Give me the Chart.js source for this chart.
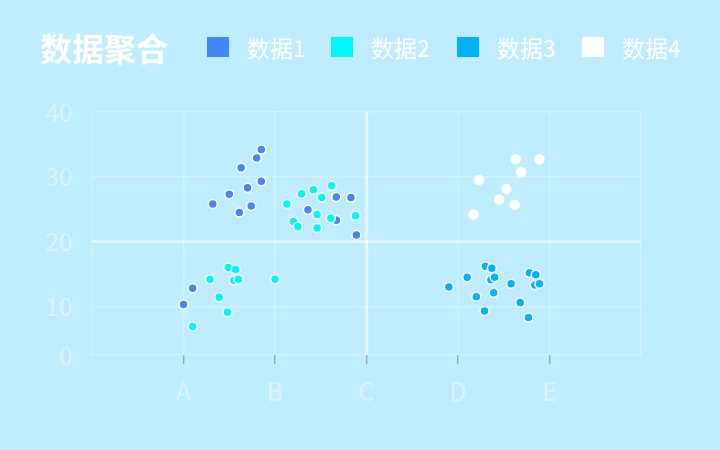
<!DOCTYPE html>
<html>
<head>
<meta charset="utf-8">
<script src="https://cdn.jsdelivr.net/npm/chart.js@4/dist/chart.umd.min.js"></script>
<style>
  html,body{margin:0;padding:0;background:#c0ecff;}
  #wrap{position:relative;width:720px;height:450px;overflow:hidden;font-family:"Noto Sans CJK SC","Noto Sans",sans-serif;}
  #title{position:absolute;left:40px;top:26px;font-size:32px;font-weight:bold;color:#fff;line-height:42px;}
  .item{position:absolute;top:37px;height:20px;display:flex;align-items:center;color:#fff;font-size:23px;}
  .item i{display:inline-block;width:22px;height:20px;margin-right:18px;}
  canvas{position:absolute;left:0;top:0;}
</style>
</head>
<body>
<div id="wrap">
  <canvas id="c" width="720" height="450"></canvas>
  <div id="title">数据聚合</div>
  <div id="legend"></div>
</div>
<script>
// ================= DATA =================
const seriesNames = ["数据1","数据2","数据3","数据4"];
const seriesColors = ["#4287f5","#00f5fc","#00b3ff","#ffffff"];
const xLabels = ["A","B","C","D","E"];
const yTickValues = [2.5,10,20,30,40];
const yTickLabels = ["0","10","20","30","40"];

const s1X = [1.32,1.50,1.63,1.61,1.70,1.74,1.80,1.85,1.85,2.36,2.67,2.83,2.67,2.89,1.10,1.00];
const s1Y = [25.8,27.3,31.4,24.5,28.3,25.5,32.9,34.2,29.3,24.9,26.9,26.8,23.3,21.0,12.8,10.3];

const s2X = [2.13,2.29,2.42,2.51,2.62,2.20,2.25,2.46,2.46,2.61,2.88,1.49,1.57,1.29,1.55,1.60,2.00,1.39,1.48,1.10];
const s2Y = [25.8,27.4,28.0,26.8,28.6,23.1,22.3,24.2,22.1,23.6,24.0,16.0,15.7,14.2,14.0,14.2,14.2,11.4,9.1,6.9];

const s3X = [3.90,4.10,4.30,4.37,4.36,4.40,4.20,4.39,4.29,4.58,4.68,4.77,4.78,4.85,4.84,4.89];
const s3Y = [13.0,14.5,16.2,15.9,14.1,14.5,11.5,12.1,9.3,13.5,10.6,8.3,15.2,14.9,13.3,13.5];

const s4X = [4.63,4.89,4.69,4.23,4.53,4.45,4.62,4.17];
const s4Y = [32.7,32.7,30.7,29.5,28.1,26.5,25.7,24.2];

// split lines
const splitY = 20;
const splitX = 3;

// ================= HELPERS =================
const $ = id => document.getElementById(id);
const pts = (xs, ys) => xs.map((x,i)=>({x, y:ys[i]}));

// ================= LEGEND =================
const legendLeft = [207,331,457,582];
$("legend").innerHTML = seriesNames.map((n,i)=>
  `<div class="item" style="left:${legendLeft[i]}px"><i style="background:${seriesColors[i]}"></i>${n}</div>`
).join("");

// ================= CHART =================
const axisFont = {family:'"Noto Sans CJK SC","Noto Sans",sans-serif', size:25};
const labelColor = "rgba(255,255,255,0.42)";
const gridColor = "rgba(255,255,255,0.25)";
const splitColor = "rgba(255,255,255,0.45)";

const allX = [s1X,s2X,s3X,s4X], allY = [s1Y,s2Y,s3Y,s4Y];
const pointSets = allX.map((xs,i)=>({
  label: seriesNames[i],
  data: pts(xs, allY[i]),
  backgroundColor: seriesColors[i],
  borderColor: "#ffffff",
  borderWidth: 1.5,
  pointRadius: 4.5,
  order: [2,1,0,0][i]
}));

new Chart($("c").getContext("2d"), {
  type: "scatter",
  data: {
    datasets: [
      ...pointSets,
      {data:[{x:0,y:splitY},{x:6,y:splitY}], showLine:true, pointRadius:0, borderColor:splitColor, borderWidth:3, order:10},
      {data:[{x:splitX,y:2.5},{x:splitX,y:40}], showLine:true, pointRadius:0, borderColor:splitColor, borderWidth:3.5, order:10}
    ]
  },
  options: {
    responsive:false, animation:false, devicePixelRatio:1,
    layout:{padding:{top:112, right:79, bottom:35, left:0}},
    plugins:{legend:{display:false}, tooltip:{enabled:false}},
    scales:{
      x:{
        type:"linear", min:0, max:6,
        afterFit: s=>{ s.height = 60; },
        ticks:{stepSize:1, color:labelColor, font:axisFont, padding:12,
               callback: v => xLabels[v-1] || ""},
        grid:{color:gridColor, lineWidth:1.5, tickLength:9, tickWidth:1.2,
              tickColor: ctx => (ctx.tick && ctx.tick.value>=1 && ctx.tick.value<=5) ? "#8ea3b0" : "rgba(0,0,0,0)"},
        border:{display:false}
      },
      y:{
        type:"linear", min:2.5, max:40,
        afterFit: s=>{ s.width = 92; },
        afterBuildTicks: s=>{ s.ticks = yTickValues.map(v=>({value:v})); },
        ticks:{color:labelColor, font:axisFont, padding:19,
               callback: (v,i) => yTickLabels[i]},
        grid:{color:gridColor, lineWidth:1.5, drawTicks:false},
        border:{display:false}
      }
    }
  }
});
</script>
</body>
</html>
